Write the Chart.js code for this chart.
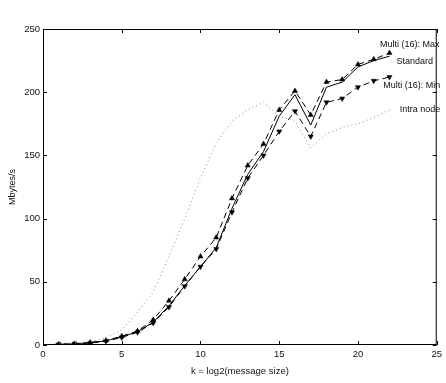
<!DOCTYPE html>
<html>
<head>
<meta charset="utf-8">
<script src="https://cdn.jsdelivr.net/npm/chart.js@4"></script>
<style>
  html, body { margin: 0; padding: 0; background: #fff; }
  #wrap { width: 446px; height: 383px; }
</style>
</head>
<body>
<div id="wrap"><canvas id="chart" width="446" height="383"></canvas></div>
<script>
// k = log2(message size)
const kValues = [0, 1, 2, 3, 4, 5, 6, 7, 8, 9, 10, 11, 12, 13, 14, 15, 16, 17, 18, 19, 20, 21, 22];

const multiMax = [0.2, 0.5, 1, 2, 3.5, 7, 11, 20, 35, 52, 70, 85, 116, 142, 159, 186, 201, 182, 208, 210, 222, 226, 231];
const multiMin = [0.2, 0.5, 1, 1.5, 3, 6, 10, 17.5, 30, 46.5, 62, 76, 105, 132, 150, 169, 185, 165, 192, 195, 204, 209, 212];
const standard = [0.2, 0.5, 1, 1.8, 3.3, 6.5, 10.5, 18, 31, 47, 62, 77, 108, 135, 153, 181, 198, 174, 204, 208, 220, 225, 228.5];
const intraNode = [0.2, 0.8, 1.5, 2.5, 5.5, 12, 26, 42, 70, 100, 132, 160, 177, 186, 192, 181, 177, 156, 167, 172, 175, 180, 186];

const xTicks = [0, 5, 10, 15, 20, 25];
const yTicks = [0, 50, 100, 150, 200, 250];

// text labels placed next to the curve ends (data coords)
const curveLabels = [
  { text: 'Multi (16): Max', k: 21.4, v: 238 },
  { text: 'Standard', k: 22.45, v: 224 },
  { text: 'Multi (16): Min', k: 21.6, v: 205 },
  { text: 'Intra node', k: 22.65, v: 186 }
];

const FONT = '"Liberation Sans", Arial, Helvetica, sans-serif';

const toPts = arr => kValues.map((k, i) => ({ x: k, y: arr[i] }));
const noFirst = kValues.map((k, i) => i === 0 ? 0 : 3);

// box + inward ticks + curve labels, matlab style
const framePlugin = {
  id: 'frame',
  afterDatasetsDraw(chart) {
    const { ctx, chartArea: a, scales } = chart;
    ctx.save();
    ctx.strokeStyle = '#000';
    ctx.lineWidth = 1;
    ctx.strokeRect(a.left + 0.5, a.top + 0.5, a.right - a.left - 1, a.bottom - a.top - 1);
    ctx.beginPath();
    xTicks.forEach(t => {
      const x = Math.round(scales.x.getPixelForValue(t)) + 0.5;
      ctx.moveTo(x, a.bottom); ctx.lineTo(x, a.bottom - 4);
      ctx.moveTo(x, a.top); ctx.lineTo(x, a.top + 4);
    });
    yTicks.forEach(t => {
      const y = Math.round(scales.y.getPixelForValue(t)) + 0.5;
      ctx.moveTo(a.left, y); ctx.lineTo(a.left + 4, y);
      ctx.moveTo(a.right, y); ctx.lineTo(a.right - 4, y);
    });
    ctx.stroke();

    ctx.fillStyle = '#111';
    ctx.font = '9px ' + FONT;
    ctx.textAlign = 'left';
    ctx.textBaseline = 'middle';
    curveLabels.forEach(l => {
      ctx.fillText(l.text, scales.x.getPixelForValue(l.k), scales.y.getPixelForValue(l.v));
    });
    ctx.restore();
  }
};

new Chart(document.getElementById('chart'), {
  type: 'line',
  data: {
    datasets: [
      {
        label: 'Intra node',
        data: toPts(intraNode),
        borderColor: '#8a8a8a',
        borderWidth: 1,
        borderDash: [1, 3],
        pointRadius: 0,
        tension: 0
      },
      {
        label: 'Standard',
        data: toPts(standard),
        borderColor: '#000',
        borderWidth: 1,
        pointRadius: 0,
        tension: 0
      },
      {
        label: 'Multi (16): Max',
        data: toPts(multiMax),
        borderColor: '#000',
        borderWidth: 1,
        borderDash: [6, 4],
        pointStyle: 'triangle',
        pointRadius: noFirst,
        pointBackgroundColor: '#000',
        pointBorderColor: '#000',
        pointBorderWidth: 0.5,
        tension: 0
      },
      {
        label: 'Multi (16): Min',
        data: toPts(multiMin),
        borderColor: '#000',
        borderWidth: 1,
        borderDash: [6, 4],
        pointStyle: 'triangle',
        pointRotation: 180,
        pointRadius: noFirst,
        pointBackgroundColor: '#000',
        pointBorderColor: '#000',
        pointBorderWidth: 0.5,
        tension: 0
      }
    ]
  },
  options: {
    responsive: false,
    animation: false,
    events: [],
    layout: { padding: { top: 29, right: 4, left: 0, bottom: 0 } },
    plugins: {
      legend: { display: false },
      tooltip: { enabled: false }
    },
    scales: {
      x: {
        type: 'linear',
        min: 0,
        max: 25,
        afterBuildTicks: axis => { axis.ticks = xTicks.map(v => ({ value: v })); },
        afterFit: axis => { axis.height = 38; },
        grid: { display: false, drawTicks: false },
        border: { display: false },
        ticks: { color: '#111', font: { family: FONT, size: 9.5 }, padding: 4, maxRotation: 0 },
        title: {
          display: true,
          text: 'k = log2(message size)',
          color: '#111',
          font: { family: FONT, size: 9.5 },
          padding: { top: 0, bottom: 6 }
        }
      },
      y: {
        min: 0,
        max: 250,
        afterBuildTicks: axis => { axis.ticks = yTicks.map(v => ({ value: v })); },
        afterFit: axis => { axis.width = 43; },
        grid: { display: false, drawTicks: false },
        border: { display: false },
        ticks: { color: '#111', font: { family: FONT, size: 9.5 }, padding: 3 },
        title: {
          display: true,
          text: 'Mbytes/s',
          color: '#111',
          font: { family: FONT, size: 9 },
          padding: { top: 7, bottom: 0 }
        }
      }
    }
  },
  plugins: [framePlugin]
});
</script>
</body>
</html>
